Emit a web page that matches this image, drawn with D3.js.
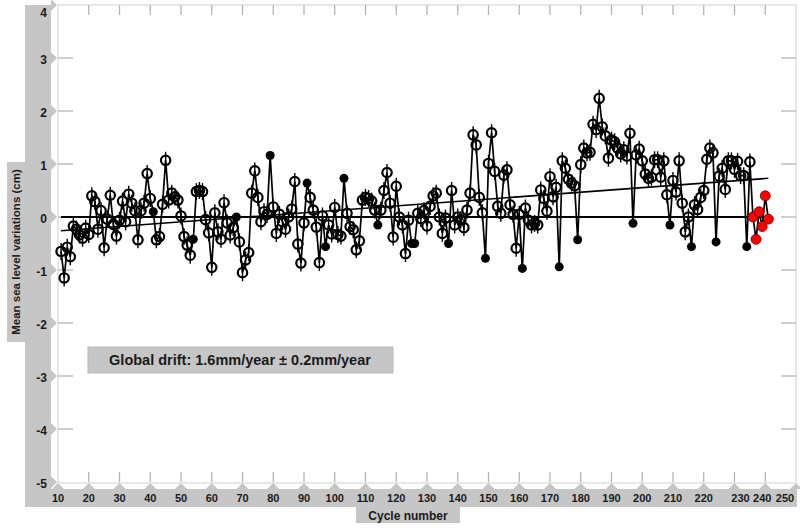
<!DOCTYPE html>
<html><head><meta charset="utf-8">
<script src="https://cdn.jsdelivr.net/npm/d3@7"></script>
<style>body{margin:0;background:#fff}svg{display:block}text{font-family:"Liberation Sans",Arial,sans-serif;font-weight:bold}</style>
</head><body><svg id="c" width="800" height="532"></svg>
<script>
// ---- data ----
const firstCycle = 11;
const seaLevel = [
 -0.65,-1.15,-0.57,-0.75,-0.17,-0.23,-0.34,-0.40,-0.21,-0.33, // 11-20
  0.40, 0.29,-0.23, 0.12,-0.58,-0.04, 0.41,-0.14,-0.36,-0.06, // 21-30
  0.30,-0.09, 0.43, 0.26, 0.12,-0.43, 0.12, 0.26, 0.82, 0.35, // 31-40
  0.10,-0.43,-0.37, 0.24, 1.07, 0.32, 0.45, 0.38, 0.32, 0.02, // 41-50
 -0.37,-0.53,-0.72,-0.42, 0.48, 0.50, 0.48,-0.05,-0.30,-0.95, // 51-60
  0.08,-0.28,-0.42, 0.27,-0.11,-0.34,-0.20, 0.00,-0.47,-1.05, // 61-70
 -0.81,-0.67, 0.45, 0.87, 0.37,-0.09, 0.10, 0.05, 1.16, 0.19, // 71-80
 -0.31, 0.05,-0.09,-0.23, 0.00, 0.15, 0.67,-0.51,-0.87,-0.11, // 81-90
  0.64, 0.37, 0.13,-0.19,-0.86, 0.02,-0.56,-0.15,-0.32, 0.18, // 91-100
 -0.33,-0.36, 0.73, 0.07,-0.18,-0.24,-0.62,-0.45, 0.32, 0.37, // 101-110
  0.35, 0.30, 0.13,-0.15, 0.13, 0.50, 0.84, 0.26,-0.38, 0.58, // 111-120
  0.00,-0.15,-0.69,-0.06,-0.50,-0.50, 0.07,-0.03, 0.12,-0.17, // 121-130
  0.20, 0.40, 0.45, 0.00,-0.31,-0.02,-0.50, 0.50,-0.15, 0.00, // 131-140
 -0.05,-0.20, 0.13, 0.45, 1.55, 1.36, 0.37, 0.08,-0.78, 1.01, // 141-150
  1.59, 0.86, 0.20, 0.07, 0.79, 0.89, 0.23, 0.05,-0.59, 0.05, // 151-160
 -0.97, 0.17,-0.06,-0.15,-0.12,-0.15, 0.51, 0.35, 0.11, 0.76, // 161-170
  0.38, 0.56,-0.94, 1.06, 0.92, 0.71, 0.64, 0.59,-0.43, 0.99, // 171-180
  1.30, 1.21, 1.22, 1.75, 1.65, 2.24, 1.70, 1.53, 1.11, 1.45, // 181-190
  1.42, 1.30, 1.19, 1.27, 1.15, 1.58,-0.12, 1.17, 1.28, 1.06, // 191-200
  0.81, 0.73, 0.75, 1.08, 1.08, 0.75, 1.06, 0.42,-0.15, 0.69, // 201-210
  0.47, 1.06, 0.26,-0.28, 0.00,-0.56, 0.23, 0.14, 0.37, 0.50, // 211-220
  1.09, 1.30, 1.21,-0.47, 0.77, 0.92, 0.52, 1.06, 1.06, 0.90, // 221-230
  1.05, 0.78, 0.78,-0.56, 1.04                                // 231-235
];
const flaggedCycles = [41,54,68,79,91,97,103,114,125,126,137,149,161,173,179,197,209,216,224,234];
const recentFirstCycle = 236;
const recentLevel = [0.00,-0.42,0.10,-0.18,0.40,-0.04];
const errorHalf = 0.16;
const fitCycles = [11, 241];
const fitValues = [-0.26, 0.73];
const zeroCycles = [11, 241];
const xTicks = [10,20,30,40,50,60,70,80,90,100,110,120,130,140,150,160,170,180,190,200,210,220,230,240,250];
const yTicks = [4,3,2,1,0,-1,-2,-3,-4,-5];
const xTitle = "Cycle number";
const yTitle = "Mean sea level variations (cm)";
const driftLabel = "Global drift: 1.6mm/year \u00b1 0.2mm/year";

// ---- drawing ----
const svg = d3.select("#c");
const L = 58, R = 796, T = 5, B = 482;
const x = d3.scaleLinear().domain([10, 250]).range([L, R]);
const y = d3.scaleLinear().domain([-5, 4]).range([B, T]);
const gray = "#c6c6c6";

const pts = seaLevel.map((v, i) => ({c: firstCycle + i, v, f: flaggedCycles.includes(firstCycle + i)}));
const red = recentLevel.map((v, i) => ({c: recentFirstCycle + i, v}));

// gray panels
svg.append("rect").attr("x", 25).attr("y", T).attr("width", 26).attr("height", 505 - T).attr("fill", gray);
svg.append("rect").attr("x", 25).attr("y", 489).attr("width", R + 1 - 25).attr("height", 18).attr("fill", gray);
svg.append("g").selectAll("path").data(yTicks).join("path")
  .attr("d", d => `M51,${y(d)-6}L57,${y(d)}L51,${y(d)+6}Z`).attr("fill", gray);
svg.append("g").selectAll("path").data(xTicks).join("path")
  .attr("d", d => `M${x(d)-6},489L${x(d)},483L${x(d)+6},489Z`).attr("fill", gray);

// plot frame
svg.append("rect").attr("x", L).attr("y", T).attr("width", R - L).attr("height", B + 1 - T)
  .attr("fill", "#fff").attr("stroke", "#cfcfcf").attr("stroke-width", 1);

// inner tick marks
const tg = svg.append("g").attr("stroke", "#b0b0b0").attr("stroke-width", 1.2);
tg.selectAll(".yl").data(yTicks.slice(1, -1)).join("line").attr("x1", L).attr("x2", L + 15).attr("y1", d => y(d)).attr("y2", d => y(d));
tg.selectAll(".yr").data(yTicks.slice(1, -1)).join("line").attr("x1", R - 15).attr("x2", R).attr("y1", d => y(d)).attr("y2", d => y(d));
tg.selectAll(".xt").data(xTicks.slice(1, -1)).join("line").attr("x1", d => x(d)).attr("x2", d => x(d)).attr("y1", T).attr("y2", T + 10);
tg.selectAll(".xb").data(xTicks.slice(1, -1)).join("line").attr("x1", d => x(d)).attr("x2", d => x(d)).attr("y1", B - 10).attr("y2", B);

// tick labels
svg.append("g").selectAll("text").data(yTicks).join("text")
  .attr("x", 47).attr("y", d => Math.max(y(d) + 2, 13)).attr("dy", "0.35em").attr("text-anchor", "end")
  .attr("font-size", 12).attr("fill", "#1a1a1a").text(d => d);
const xLabelShift = {230: 6, 240: -3, 250: -11};
svg.append("g").selectAll("text").data(xTicks).join("text")
  .attr("x", d => x(d) + (xLabelShift[d] || 0)).attr("y", 502).attr("text-anchor", "middle")
  .attr("font-size", 11).attr("fill", "#1a1a1a").text(d => d);

// axis titles
svg.append("rect").attr("x", 356).attr("y", 507).attr("width", 104).attr("height", 16).attr("fill", gray);
svg.append("text").attr("x", 408).attr("y", 519.5).attr("text-anchor", "middle").attr("font-size", 12).attr("fill", "#1a1a1a").text(xTitle);
svg.append("rect").attr("x", 7).attr("y", 162).attr("width", 18).attr("height", 180).attr("fill", gray);
svg.append("text").attr("transform", "translate(20,252) rotate(-90)").attr("text-anchor", "middle")
  .attr("font-size", 11.5).attr("fill", "#1a1a1a").text(yTitle);

// zero line and fit line
svg.append("line").attr("x1", x(zeroCycles[0])).attr("x2", x(zeroCycles[1])).attr("y1", y(0)).attr("y2", y(0))
  .attr("stroke", "#000").attr("stroke-width", 2);
svg.append("line").attr("x1", x(fitCycles[0])).attr("x2", x(fitCycles[1])).attr("y1", y(fitValues[0])).attr("y2", y(fitValues[1]))
  .attr("stroke", "#000").attr("stroke-width", 1.6);

// series line
const line = d3.line().x(d => x(d.c)).y(d => y(d.v));
svg.append("path").datum(pts.concat(red)).attr("d", line).attr("fill", "none").attr("stroke", "#000").attr("stroke-width", 1.7);

// error bars
svg.append("g").selectAll("line").data(pts.filter(d => !d.f)).join("line")
  .attr("x1", d => x(d.c)).attr("x2", d => x(d.c)).attr("y1", d => y(d.v - errorHalf)).attr("y2", d => y(d.v + errorHalf))
  .attr("stroke", "#000").attr("stroke-width", 1.4);
// open markers
svg.append("g").selectAll("circle").data(pts.filter(d => !d.f)).join("circle")
  .attr("cx", d => x(d.c)).attr("cy", d => y(d.v)).attr("r", 4.7)
  .attr("fill", "none").attr("stroke", "#000").attr("stroke-width", 2.2);
// flagged (filled) markers
svg.append("g").selectAll("circle").data(pts.filter(d => d.f)).join("circle")
  .attr("cx", d => x(d.c)).attr("cy", d => y(d.v)).attr("r", 4.5).attr("fill", "#000");
// recent (red) markers
svg.append("g").selectAll("circle").data(red).join("circle")
  .attr("cx", d => x(d.c)).attr("cy", d => y(d.v)).attr("r", 5)
  .attr("fill", "#f00").attr("stroke", "#600").attr("stroke-width", 0.8);

// drift label
svg.append("rect").attr("x", 88).attr("y", 347).attr("width", 305).attr("height", 26)
  .attr("fill", gray).attr("stroke", "#b8b8b8");
svg.append("text").attr("x", 240).attr("y", 365).attr("text-anchor", "middle").attr("font-size", 14.5)
  .attr("fill", "#1a1a1a").text(driftLabel);
</script></body></html>
